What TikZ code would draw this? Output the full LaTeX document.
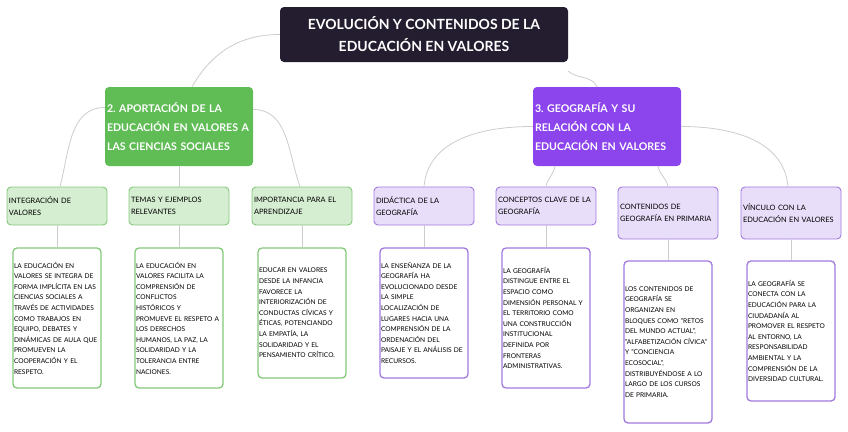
\documentclass[tikz,border=0pt]{standalone}
\usepackage{fontspec}
\setmainfont{Lato}
\frenchspacing
\definecolor{darkbg}{HTML}{231D2F}
\definecolor{grn}{HTML}{60BD55}
\definecolor{prp}{HTML}{8C44EC}
\definecolor{grnlight}{HTML}{D5EDD1}
\definecolor{grnline}{HTML}{84C87A}
\definecolor{prplight}{HTML}{E9DEFA}
\definecolor{prpline}{HTML}{A279DF}
\definecolor{linkgray}{HTML}{CCCCCC}
\begin{document}
\begin{tikzpicture}[x=1pt,y=-1pt,
    rootbox/.style={fill=darkbg,rounded corners=4pt,text=white,inner sep=0pt,
        minimum width=288pt,minimum height=55pt,align=center,
        font=\fontsize{14}{22}\selectfont\bfseries},
    branch/.style={fill=#1,rounded corners=4pt,text=white,inner xsep=2pt,inner ysep=0pt,
        minimum width=148pt,minimum height=79pt,text width=144pt,align=left,
        font=\fontsize{10.6}{19}\selectfont\bfseries},
    sub/.style={fill=#1light,draw=#1line,line width=0.9pt,rounded corners=4pt,
        inner xsep=2pt,inner ysep=0pt,minimum width=100pt,minimum height=38pt,
        text width=96pt,align=left,font=\fontsize{7.4}{12}\selectfont},
    leaf/.style={fill=white,draw=#1line,line width=1.3pt,rounded corners=4pt,
        inner xsep=1pt,inner ysep=0pt,minimum width=88pt,minimum height=140pt,
        text width=86pt,align=left,font=\fontsize{6.6}{10.6}\selectfont},
    link/.style={draw=linkgray,line width=0.8pt}]
    \useasboundingbox (0,0) rectangle (848,431);
    % title and branches
    \node[rootbox] (root) at (424,34.5) {EVOLUCIÓN Y CONTENIDOS DE LA\\EDUCACIÓN EN VALORES};
    \node[branch=grn] (apor) at (179,126.5) {2. APORTACIÓN DE LA\\EDUCACIÓN EN VALORES A\\LAS CIENCIAS SOCIALES};
    \node[branch=prp] (geo) at (607,126.5) {3. GEOGRAFÍA Y SU\\RELACIÓN CON LA\\EDUCACIÓN EN VALORES};
    % second level
    \node[sub=grn] (integ) at (57,206) {INTEGRACIÓN DE\\VALORES};
    \node[sub=grn] (temas) at (179,206) {TEMAS Y EJEMPLOS\\RELEVANTES};
    \node[sub=grn] (impor) at (302,206) {IMPORTANCIA PARA EL\\APRENDIZAJE};
    \node[sub=prp] (didac) at (424,206) {DIDÁCTICA DE LA\\GEOGRAFÍA};
    \node[sub=prp] (conce) at (546,206) {CONCEPTOS CLAVE DE LA\\GEOGRAFÍA};
    \node[sub=prp,minimum height=52pt] (conte) at (668,213) {CONTENIDOS DE\\GEOGRAFÍA EN PRIMARIA};
    \node[sub=prp,minimum height=52pt] (vincu) at (791,213) {VÍNCULO CON LA\\EDUCACIÓN EN VALORES};
    % leaves
    \node[leaf=grn] (linteg) at (57,318) {LA EDUCACIÓN EN\\VALORES SE INTEGRA DE\\FORMA IMPLÍCITA EN LAS\\CIENCIAS SOCIALES A\\TRAVÉS DE ACTIVIDADES\\COMO TRABAJOS EN\\EQUIPO, DEBATES Y\\DINÁMICAS DE AULA QUE\\PROMUEVEN LA\\COOPERACIÓN Y EL\\RESPETO.};
    \node[leaf=grn] (ltemas) at (179,318) {LA EDUCACIÓN EN\\VALORES FACILITA LA\\COMPRENSIÓN DE\\CONFLICTOS\\HISTÓRICOS Y\\PROMUEVE EL RESPETO A\\LOS DERECHOS\\HUMANOS, LA PAZ, LA\\SOLIDARIDAD Y LA\\TOLERANCIA ENTRE\\NACIONES.};
    \node[leaf=grn,minimum width=87pt,minimum height=130pt] (limpor) at (302,313) {EDUCAR EN VALORES\\DESDE LA INFANCIA\\FAVORECE LA\\INTERIORIZACIÓN DE\\CONDUCTAS CÍVICAS Y\\ÉTICAS, POTENCIANDO\\LA EMPATÍA, LA\\SOLIDARIDAD Y EL\\PENSAMIENTO CRÍTICO.};
    \node[leaf=prp,minimum width=87pt,minimum height=130pt] (ldidac) at (424,313) {LA ENSEÑANZA DE LA\\GEOGRAFÍA HA\\EVOLUCIONADO DESDE\\LA SIMPLE\\LOCALIZACIÓN DE\\LUGARES HACIA UNA\\COMPRENSIÓN DE LA\\ORDENACIÓN DEL\\PAISAJE Y EL ANÁLISIS DE\\RECURSOS.};
    \node[leaf=prp,minimum width=87pt] (lconce) at (546,318) {LA GEOGRAFÍA\\DISTINGUE ENTRE EL\\ESPACIO COMO\\DIMENSIÓN PERSONAL Y\\EL TERRITORIO COMO\\UNA CONSTRUCCIÓN\\INSTITUCIONAL\\DEFINIDA POR\\FRONTERAS\\ADMINISTRATIVAS.};
    \node[leaf=prp,minimum height=162pt] (lconte) at (668,342) {LOS CONTENIDOS DE\\GEOGRAFÍA SE\\ORGANIZAN EN\\BLOQUES COMO "RETOS\\DEL MUNDO ACTUAL",\\"ALFABETIZACIÓN CÍVICA"\\Y "CONCIENCIA\\ECOSOCIAL",\\DISTRIBUYÉNDOSE A LO\\LARGO DE LOS CURSOS\\DE PRIMARIA.};
    \node[leaf=prp,minimum width=87pt] (lvincu) at (791,331) {LA GEOGRAFÍA SE\\CONECTA CON LA\\EDUCACIÓN PARA LA\\CIUDADANÍA AL\\PROMOVER EL RESPETO\\AL ENTORNO, LA\\RESPONSABILIDAD\\AMBIENTAL Y LA\\COMPRENSIÓN DE LA\\DIVERSIDAD CULTURAL.};
    % connectors
    \draw[link] (root.west) to[out=180,in=60] ([xshift=13pt]apor.north);
    \draw[link] ([yshift=-9pt]root.south east) to[out=-40,in=115] ([xshift=-10pt]geo.north);
    \draw[link] ([yshift=19pt]apor.west) to[out=180,in=75] ([xshift=3pt]integ.north);
    \draw[link] (apor.south) -- (temas.north);
    \draw[link] ([yshift=17pt]apor.east) to[out=0,in=110] ([xshift=-2pt]impor.north);
    \draw[link] (geo.west) to[out=180,in=85] (didac.north);
    \draw[link] ([xshift=-52pt]geo.south) to[out=-100,in=80] (conce.north);
    \draw[link] ([xshift=51pt]geo.south) to[out=-80,in=100] (conte.north);
    \draw[link] (geo.east) to[out=0,in=95] ([xshift=-3pt]vincu.north);
    \foreach \n in {integ,temas,impor,didac,conce,conte,vincu}
        \draw[link] (\n.south) -- (l\n.north);
\end{tikzpicture}
\end{document}
